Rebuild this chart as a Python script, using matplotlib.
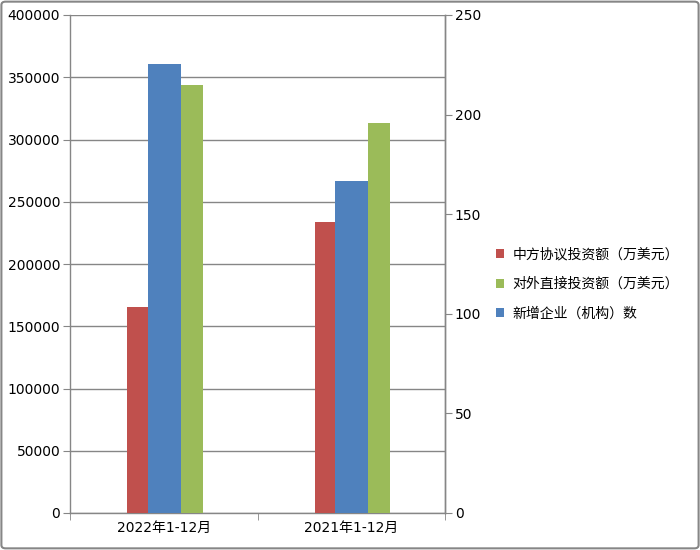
import matplotlib
matplotlib.use("Agg")
import matplotlib.pyplot as plt
from matplotlib.patches import Patch, FancyBboxPatch
import numpy as np

categories = ["2022年1-12月", "2021年1-12月"]
agreed_invest = [165200, 233700]      # 中方协议投资额（万美元）, left axis
direct_invest = [343500, 313000]      # 对外直接投资额（万美元）, left axis
new_firms = [225.5, 166.7]            # 新增企业（机构）数, right axis
left_ticks = [0, 50000, 100000, 150000, 200000, 250000, 300000, 350000, 400000]
right_ticks = [0, 50, 100, 150, 200, 250]

labels = ["中方协议投资额（万美元）", "对外直接投资额（万美元）", "新增企业（机构）数"]
c_red, c_green, c_blue = "#C0504D", "#9BBB59", "#4F81BD"
grey = "#868686"
fam = ["DejaVu Sans", "Noto Sans CJK SC"]
plt.rcParams["font.family"] = fam

fig = plt.figure(figsize=(7, 5.5), dpi=100)
ax = fig.add_axes([70/700, 37/550, 375/700, 498/550])
ax2 = ax.twinx()

x = np.arange(len(categories))
ax.bar(x - 0.14, agreed_invest, width=0.112, color=c_red, zorder=3)
ax.bar(x + 0.15, direct_invest, width=0.117, color=c_green, zorder=3)
ax2.bar(x + 0.003, new_firms, width=0.176, color=c_blue, zorder=3)

ax.set_xlim(-0.5, 1.5)
ax.set_ylim(0, 400000)
ax2.set_ylim(0, 250)
ax.set_yticks(left_ticks)
ax.set_yticklabels([str(v) for v in left_ticks])
ax2.set_yticks(right_ticks)
ax2.set_yticklabels([str(v) for v in right_ticks])

ax.set_xticks(x)
ax.set_xticklabels(categories, fontsize=10)
ax.set_xticks([-0.5, 0.5, 1.5], minor=True)
ax.tick_params(axis="x", which="major", length=0, pad=6)
ax.tick_params(axis="x", which="minor", length=5, color=grey, direction="out")
ax.tick_params(axis="y", length=5, color=grey, labelsize=10, pad=2)
ax2.tick_params(axis="y", length=5, color=grey, labelsize=10, pad=2)

ax.yaxis.grid(True, color=grey, linewidth=1, zorder=0)
ax.set_axisbelow(True)

for a in (ax, ax2):
    a.spines["top"].set_visible(False)
    for s in ("left", "right", "bottom"):
        a.spines[s].set_color(grey)
        a.spines[s].set_linewidth(1)
ax2.spines["left"].set_visible(False)
ax2.spines["bottom"].set_visible(False)

handles = [Patch(facecolor=c_red), Patch(facecolor=c_green), Patch(facecolor=c_blue)]
fig.legend(handles, labels, loc="center left", bbox_to_anchor=(490/700, 1 - 284/550),
           frameon=False, handlelength=0.6, handleheight=0.6,
           handletextpad=0.6, labelspacing=1.1, borderaxespad=0,
           prop={"family": ["Noto Sans CJK TC", "DejaVu Sans"], "size": 10})

border = FancyBboxPatch((0.002, 0.003), 0.996, 0.994, boxstyle="round,pad=0,rounding_size=0.006",
                        transform=fig.transFigure, fill=False, edgecolor=grey, linewidth=1.5)
fig.patches.append(border)

fig.savefig("out.png", dpi=100)
